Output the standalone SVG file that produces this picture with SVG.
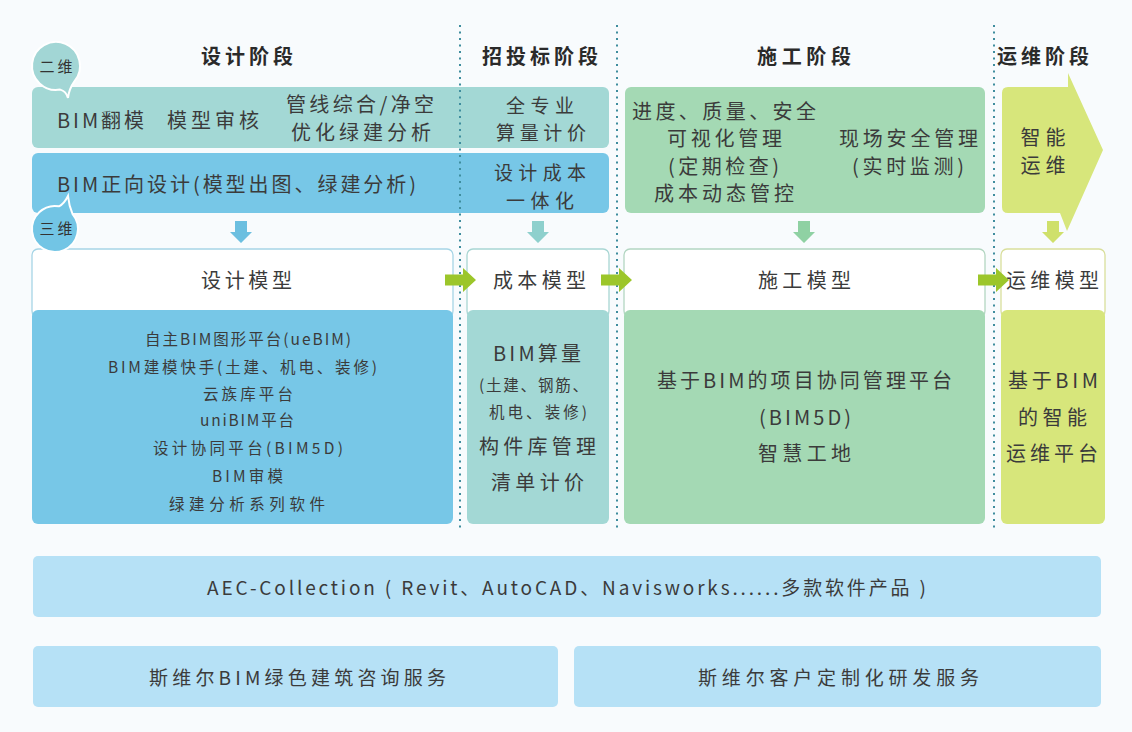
<svg xmlns="http://www.w3.org/2000/svg" width="1132" height="732" viewBox="0 0 1132 732">
<defs>
<style>
.h{font-family:"Noto Sans CJK SC","Noto Sans",sans-serif;font-weight:bold;font-size:20px;fill:#2a2a2a;text-anchor:middle}
.t{font-family:"Noto Sans CJK SC","Noto Sans",sans-serif;font-size:20px;fill:#3b3b3b;text-anchor:middle}
.s{font-size:15.5px}
.m{font-size:19px}
.n{font-size:19px}
.lab{font-size:15px;fill:#333}
.teal{fill:#a3d8d5}
.blue{fill:#77c7e7}
.green{fill:#a4d9b4}
.yel{fill:#d7e67b}
.bar{fill:#b6e1f6}
.bub{stroke:#ffffff;stroke-width:2}
.hdr{fill:#ffffff;stroke-width:1.3}
.div{stroke:#3f8d9e;stroke-width:2;stroke-dasharray:2 4.5;fill:none}
</style>
<path id="darr" d="M-6,0 H6 V11 H11 L0,22 L-11,11 H-6 Z"/>
<path id="rarr" d="M0,-5.5 H18 V-12 L31,0 L18,12 V5.5 H0 Z"/>
</defs>
<rect width="1132" height="732" fill="#f8fbfd"/>

<g id="headings">
<text class="h" x="247" y="63.5" textLength="92">设计阶段</text>
<text class="h" x="540" y="63.5" textLength="116">招投标阶段</text>
<text class="h" x="804" y="63.5" textLength="94">施工阶段</text>
<text class="h" x="1043" y="63.5" textLength="92">运维阶段</text>
</g>

<g id="design-2d">
<rect class="teal" x="32" y="87" width="577" height="61" rx="6"/>
<text class="t" x="100.5" y="127.5" textLength="87">BIM翻模</text>
<text class="t" x="213" y="127.5" textLength="92">模型审核</text>
<text class="t" x="360" y="112" textLength="148">管线综合/净空</text>
<text class="t" x="361" y="140" textLength="140">优化绿建分析</text>
</g>
<g id="bid-quantity">
<text class="t n" x="540" y="112.5" textLength="68">全专业</text>
<text class="t n" x="541" y="140" textLength="90">算量计价</text>
</g>

<g id="design-3d">
<rect class="blue" x="32" y="153" width="577" height="60" rx="6"/>
<text class="t" x="236.5" y="191.5" textLength="359">BIM正向设计(模型出图、绿建分析)</text>
</g>
<g id="bid-cost">
<text class="t n" x="540" y="180" textLength="92">设计成本</text>
<text class="t n" x="540" y="207.5" textLength="68">一体化</text>
</g>

<g id="construction-mgmt">
<rect class="green" x="625" y="87" width="360" height="126" rx="6"/>
<text class="t" x="724" y="118.5" textLength="184">进度、质量、安全</text>
<text class="t" x="724.5" y="145.5" textLength="115">可视化管理</text>
<text class="t" x="723.5" y="173.5" textLength="111">(定期检查)</text>
<text class="t" x="724" y="200.5" textLength="140">成本动态管控</text>
<text class="t" x="908.5" y="145.5" textLength="139">现场安全管理</text>
<text class="t" x="908" y="173.5" textLength="112">(实时监测)</text>
</g>

<g id="om-smart">
<path class="yel" d="M1008,87 H1068 V73 L1103,150 L1067,231 L1060,213 H1008 Q1002,213 1002,207 V93 Q1002,87 1008,87 Z"/>
<text class="t" x="1043" y="145" textLength="45">智能</text>
<text class="t" x="1043" y="172.5" textLength="45">运维</text>
</g>

<g id="design-model">
<rect class="hdr" x="32" y="249" width="421" height="68" rx="6" stroke="#a6d5e6"/>
<rect class="blue" x="32" y="310" width="421" height="214" rx="6"/>
<text class="t" x="246.5" y="287.5" textLength="91">设计模型</text>
<text class="t s" x="248" y="345" textLength="206">自主BIM图形平台(ueBIM)</text>
<text class="t s" x="242.5" y="373" textLength="269">BIM建模快手(土建、机电、装修)</text>
<text class="t s" x="248" y="400" textLength="90">云族库平台</text>
<text class="t s" x="247" y="426" textLength="94">uniBIM平台</text>
<text class="t s" x="248" y="454" textLength="190">设计协同平台(BIM5D)</text>
<text class="t s" x="247.5" y="482" textLength="71">BIM审模</text>
<text class="t s" x="247" y="510" textLength="156">绿建分析系列软件</text>
</g>

<g id="cost-model">
<rect class="hdr" x="467" y="249" width="142" height="68" rx="6" stroke="#a8d6d3"/>
<rect class="teal" x="467" y="310" width="142" height="214" rx="6"/>
<text class="t" x="539.5" y="287.5" textLength="93">成本模型</text>
<text class="t" x="537" y="360.5" textLength="88">BIM算量</text>
<text class="t s" x="533.5" y="391" textLength="109">(土建、钢筋、</text>
<text class="t s" x="538" y="418" textLength="98">机电、装修)</text>
<text class="t" x="537.5" y="453.5" textLength="117">构件库管理</text>
<text class="t" x="537.5" y="489.5" textLength="93">清单计价</text>
</g>

<g id="construction-model">
<rect class="hdr" x="624" y="249" width="361" height="68" rx="6" stroke="#b3d6c2"/>
<rect class="green" x="624" y="310" width="361" height="214" rx="6"/>
<text class="t" x="804.5" y="287.5" textLength="93">施工模型</text>
<text class="t" x="804.5" y="387.5" textLength="295">基于BIM的项目协同管理平台</text>
<text class="t" x="805" y="424.5" textLength="92">(BIM5D)</text>
<text class="t" x="804.5" y="460.5" textLength="93">智慧工地</text>
</g>

<g id="om-model">
<rect class="hdr" x="1001" y="249" width="104" height="68" rx="6" stroke="#d9df9c"/>
<rect class="yel" x="1001" y="310" width="104" height="214" rx="6"/>
<text class="t" x="1052.5" y="287.5" textLength="93">运维模型</text>
<text class="t" x="1053" y="387.5" textLength="90">基于BIM</text>
<text class="t" x="1052.5" y="424.5" textLength="69">的智能</text>
<text class="t" x="1052" y="460.5" textLength="92">运维平台</text>
</g>

<g id="bubble-2d">
<path class="bub" fill="#a2d6d5" d="M74.4,81.4 A24,24 0 1 0 60.2,89.6 Q66,91 68,98 Q69,89 74.4,81.4 Z"/>
<text class="t lab" x="56" y="71.5" textLength="33">二维</text>
</g>
<g id="bubble-3d">
<path class="bub" fill="#72c5e5" d="M59,206.3 A23,23 0 1 0 72.6,214.2 Q69,206 68,196 Q64,204 59,206.3 Z"/>
<text class="t lab" x="56" y="234" textLength="33">三维</text>
</g>

<g id="dividers">
<line class="div" x1="460" y1="25" x2="460" y2="528"/>
<line class="div" x1="617" y1="25" x2="617" y2="528"/>
<line class="div" x1="994" y1="25" x2="994" y2="528"/>
</g>

<g id="connectors">
<use href="#darr" x="241" y="221" fill="#6cbfe0"/>
<use href="#darr" x="538" y="221" fill="#8ed0cd"/>
<use href="#darr" x="804" y="221" fill="#8fd1a3"/>
<use href="#darr" x="1053" y="221" fill="#cfe06b"/>
<use href="#rarr" x="445" y="280" fill="#9cc62a"/>
<use href="#rarr" x="601" y="280" fill="#9cc62a"/>
<use href="#rarr" x="978" y="280" fill="#9cc62a"/>
</g>

<g id="aec">
<rect class="bar" x="33" y="556" width="1068" height="61" rx="5"/>
<text class="t m" x="566.5" y="595" textLength="719">AEC-Collection ( Revit、AutoCAD、Navisworks......多款软件产品 )</text>
</g>
<g id="green-consult">
<rect class="bar" x="33" y="646" width="525" height="61" rx="5"/>
<text class="t m" x="297.5" y="685" textLength="297">斯维尔BIM绿色建筑咨询服务</text>
</g>
<g id="custom-dev">
<rect class="bar" x="574" y="646" width="527" height="61" rx="5"/>
<text class="t m" x="838.5" y="685" textLength="281">斯维尔客户定制化研发服务</text>
</g>
</svg>
